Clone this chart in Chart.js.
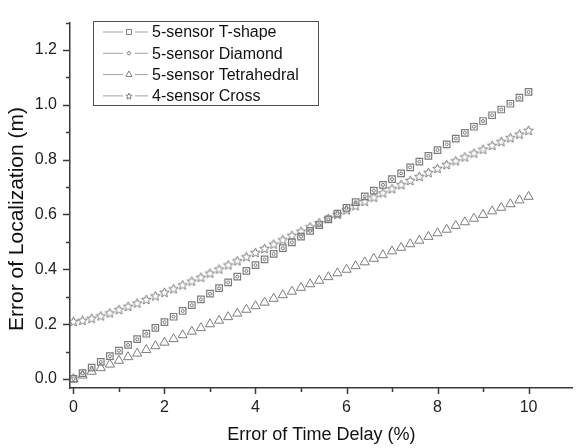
<!DOCTYPE html>
<html>
<head>
<meta charset="utf-8">
<script src="https://cdn.jsdelivr.net/npm/chart.js@4.4.1/dist/chart.umd.min.js"></script>
<style>
  html, body { margin: 0; padding: 0; background: #fff; }
  #wrap { position: relative; width: 579px; height: 448px; }
</style>
</head>
<body>
<div id="wrap"><canvas id="chart" width="579" height="448"></canvas></div>
<script>
// Error of time delay (%)
const timeDelay = [
  0, 0.2, 0.4, 0.6, 0.8, 1, 1.2, 1.4, 1.6, 1.8,
  2, 2.2, 2.4, 2.6, 2.8, 3, 3.2, 3.4, 3.6, 3.8,
  4, 4.2, 4.4, 4.6, 4.8, 5, 5.2, 5.4, 5.6, 5.8,
  6, 6.2, 6.4, 6.6, 6.8, 7, 7.2, 7.4, 7.6, 7.8,
  8, 8.2, 8.4, 8.6, 8.8, 9, 9.2, 9.4, 9.6, 9.8, 10
];

// Error of localization (m)
const tShape = [
  0, 0.021, 0.041, 0.062, 0.083, 0.103, 0.124, 0.145, 0.165, 0.186,
  0.207, 0.227, 0.248, 0.269, 0.290, 0.311, 0.331, 0.352, 0.373, 0.394,
  0.415, 0.436, 0.456, 0.477, 0.498, 0.519, 0.540, 0.561, 0.582, 0.603,
  0.624, 0.645, 0.666, 0.687, 0.708, 0.729, 0.750, 0.772, 0.793, 0.814,
  0.835, 0.856, 0.877, 0.898, 0.920, 0.941, 0.962, 0.983, 1.004, 1.026, 1.047
];
const diamond = [
  0, 0.021, 0.041, 0.062, 0.083, 0.103, 0.124, 0.145, 0.165, 0.186,
  0.207, 0.227, 0.248, 0.269, 0.290, 0.311, 0.331, 0.352, 0.373, 0.394,
  0.415, 0.436, 0.456, 0.477, 0.498, 0.519, 0.540, 0.561, 0.582, 0.603,
  0.624, 0.645, 0.666, 0.687, 0.708, 0.729, 0.750, 0.772, 0.793, 0.814,
  0.835, 0.856, 0.877, 0.898, 0.920, 0.941, 0.962, 0.983, 1.004, 1.026, 1.047
];
const tetrahedral = [
  0, 0.013, 0.027, 0.040, 0.053, 0.067, 0.080, 0.093, 0.106, 0.120,
  0.133, 0.146, 0.160, 0.173, 0.186, 0.200, 0.213, 0.226, 0.239, 0.253,
  0.266, 0.279, 0.293, 0.306, 0.319, 0.333, 0.346, 0.359, 0.372, 0.386,
  0.399, 0.412, 0.426, 0.439, 0.452, 0.466, 0.479, 0.492, 0.505, 0.519,
  0.532, 0.545, 0.559, 0.572, 0.585, 0.599, 0.612, 0.625, 0.638, 0.652, 0.665
];
const cross = [
  0.210, 0.214, 0.221, 0.230, 0.241, 0.253, 0.265, 0.277, 0.290, 0.303,
  0.316, 0.329, 0.343, 0.357, 0.371, 0.386, 0.401, 0.416, 0.431, 0.446,
  0.461, 0.476, 0.492, 0.508, 0.524, 0.539, 0.555, 0.570, 0.586, 0.601,
  0.617, 0.632, 0.648, 0.663, 0.679, 0.694, 0.709, 0.724, 0.739, 0.753,
  0.768, 0.782, 0.796, 0.810, 0.824, 0.838, 0.852, 0.866, 0.880, 0.893, 0.907
];

const seriesLabels = ['5-sensor T-shape', '5-sensor Diamond', '5-sensor Tetrahedral', '4-sensor Cross'];

const xMajorTicks = [0, 2, 4, 6, 8, 10];
const xMinorTicks = [1, 3, 5, 7, 9];
const yMajorTicks = [0, 0.2, 0.4, 0.6, 0.8, 1.0, 1.2];
const yMinorTicks = [0.1, 0.3, 0.5, 0.7, 0.9, 1.1, 1.3];

const GREY = '#7c7c7c';
const AXIS = '#3a3a3a';
const FONT = '"Liberation Sans", Arial, sans-serif';

// open five-point star, Chart.js has none
function makeStar(outer) {
    const size = Math.ceil(outer * 2 + 3);
    const c = document.createElement('canvas');
    c.width = size; c.height = size;
    const g = c.getContext('2d');
    const cx = size / 2, cy = size / 2 + 0.4, inner = outer * 0.45;
    g.beginPath();
    for (let i = 0; i < 10; i++) {
        const r = i % 2 === 0 ? outer : inner;
        const a = -Math.PI / 2 + i * Math.PI / 5;
        const px = cx + r * Math.cos(a), py = cy + r * Math.sin(a);
        if (i === 0) g.moveTo(px, py); else g.lineTo(px, py);
    }
    g.closePath();
    g.strokeStyle = GREY;
    g.lineWidth = 1;
    g.stroke();
    return c;
}
const starBig = makeStar(5);
const starSmall = makeStar(3.3);

function toPoints(ys) {
    return timeDelay.map((x, i) => ({ x, y: ys[i] }));
}

// axis ticks (major + minor), drawn outward like the original
const axisTicks = {
    id: 'axisTicks',
    afterDraw(chart) {
        const { ctx, chartArea: a, scales: { x, y } } = chart;
        ctx.save();
        ctx.strokeStyle = AXIS;
        ctx.lineWidth = 1.5;
        ctx.beginPath();
        xMajorTicks.forEach(v => { const p = Math.round(x.getPixelForValue(v)) + 0.5; ctx.moveTo(p, a.bottom); ctx.lineTo(p, a.bottom + 6); });
        xMinorTicks.forEach(v => { const p = Math.round(x.getPixelForValue(v)) + 0.5; ctx.moveTo(p, a.bottom); ctx.lineTo(p, a.bottom + 4); });
        yMajorTicks.forEach(v => { const p = Math.round(y.getPixelForValue(v)) + 0.5; ctx.moveTo(a.left, p); ctx.lineTo(a.left - 7, p); });
        yMinorTicks.forEach(v => { const p = Math.round(y.getPixelForValue(v)) + 0.5; ctx.moveTo(a.left, p); ctx.lineTo(a.left - 4, p); });
        ctx.stroke();

        // y title sits a bit lower than the axis centre in the original
        ctx.translate(17, 219);
        ctx.rotate(-Math.PI / 2);
        ctx.fillStyle = '#111';
        ctx.font = '21px ' + FONT;
        ctx.textAlign = 'center';
        ctx.textBaseline = 'middle';
        ctx.fillText('Error of Localization (m)', 0, 0);
        ctx.restore();
    }
};

// boxed legend with "line + symbol" samples
const legendBox = {
    id: 'legendBox',
    afterDraw(chart) {
        const ctx = chart.ctx;
        ctx.save();
        ctx.strokeStyle = '#505050';
        ctx.lineWidth = 1;
        ctx.strokeRect(93.5, 21.5, 225, 84);
        const samples = [
            { pointStyle: 'rect', radius: 3.6 },
            { pointStyle: 'circle', radius: 1.6 },
            { pointStyle: 'triangle', radius: 3.6 },
            { pointStyle: starSmall, radius: 3 }
        ];
        chart.data.datasets.forEach((ds, i) => {
            const yy = 32 + i * 21.3;
            ctx.strokeStyle = '#a0a0a0';
            ctx.lineWidth = 1;
            ctx.beginPath();
            ctx.moveTo(103, yy); ctx.lineTo(123, yy);
            ctx.moveTo(135, yy); ctx.lineTo(148, yy);
            ctx.stroke();
            ctx.strokeStyle = GREY;
            ctx.fillStyle = '#fff';
            Chart.helpers.drawPoint(ctx, { pointStyle: samples[i].pointStyle, radius: samples[i].radius, rotation: 0, borderWidth: 1 }, 129, yy);
            ctx.fillStyle = '#111';
            ctx.font = '16px ' + FONT;
            ctx.textBaseline = 'middle';
            ctx.textAlign = 'left';
            ctx.fillText(ds.label, 152, yy + 1);
        });
        ctx.restore();
    }
};

const commonPoint = {
    showLine: false,
    borderColor: GREY,
    backgroundColor: 'rgba(0,0,0,0)',
    pointBorderWidth: 1,
    pointHoverRadius: 0
};

new Chart(document.getElementById('chart'), {
    type: 'scatter',
    data: {
        datasets: [
            { ...commonPoint, label: seriesLabels[0], data: toPoints(tShape), pointStyle: 'rect', pointRadius: 4.6, pointBorderWidth: 1.2 },
            { ...commonPoint, label: seriesLabels[1], data: toPoints(diamond), pointStyle: 'circle', pointRadius: 1.5 },
            { ...commonPoint, label: seriesLabels[2], data: toPoints(tetrahedral), pointStyle: 'triangle', pointRadius: 5.3 },
            { ...commonPoint, label: seriesLabels[3], data: toPoints(cross), pointStyle: starBig, pointRadius: 5 }
        ]
    },
    options: {
        responsive: false,
        animation: false,
        events: [],
        layout: { padding: { top: 7, right: 0, left: 0, bottom: 0 } },
        plugins: {
            legend: { display: false },
            tooltip: { enabled: false }
        },
        scales: {
            x: {
                type: 'linear',
                min: -0.076,
                max: 10.97,
                afterBuildTicks: s => { s.ticks = xMajorTicks.map(v => ({ value: v })); },
                afterFit: s => { s.height = 60; },
                grid: { display: false, drawTicks: false },
                border: { display: true, color: AXIS, width: 1.5 },
                ticks: {
                    padding: 10,
                    color: '#222',
                    font: { family: FONT, size: 16 },
                    maxRotation: 0,
                    callback: v => String(v)
                },
                title: {
                    display: true,
                    text: 'Error of Time Delay (%)',
                    color: '#111',
                    font: { family: FONT, size: 18 },
                    padding: { top: 0, bottom: 2 }
                }
            },
            y: {
                type: 'linear',
                min: -0.033,
                max: 1.3,
                afterBuildTicks: s => { s.ticks = yMajorTicks.map(v => ({ value: v })); },
                afterFit: s => { s.width = 70; },
                grid: { display: false, drawTicks: false },
                border: { display: true, color: AXIS, width: 1.5 },
                ticks: {
                    padding: 13,
                    color: '#222',
                    font: { family: FONT, size: 16 },
                    callback: v => Number(v).toFixed(1)
                }
            }
        }
    },
    plugins: [axisTicks, legendBox]
});
</script>
</body>
</html>
